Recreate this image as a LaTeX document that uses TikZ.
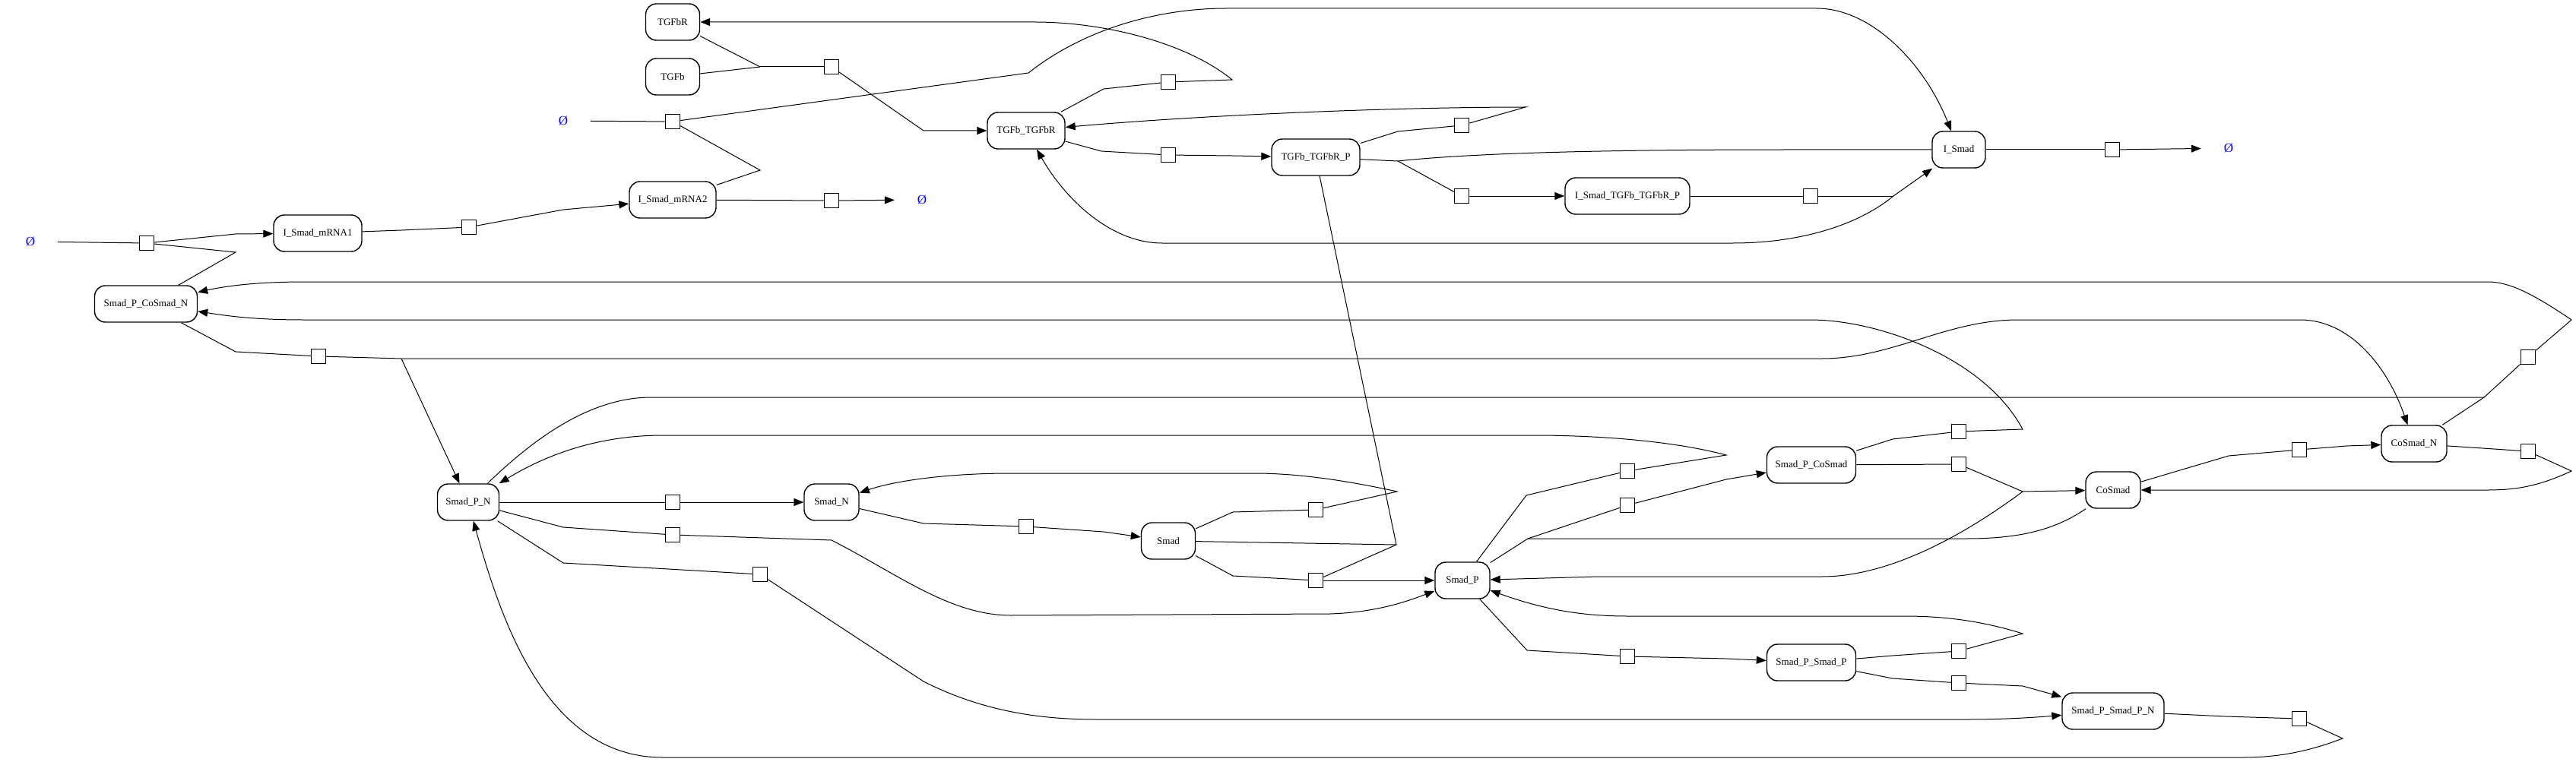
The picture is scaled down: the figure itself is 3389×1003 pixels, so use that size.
\documentclass[tikz,border=0pt]{standalone}
\usepackage{fontspec}
\setmainfont{Liberation Serif}
\usetikzlibrary{arrows.meta}
\tikzset{
  species/.style={draw, rounded corners=14pt, minimum height=48pt, inner sep=0pt, line width=1.4pt, font=\fontsize{13}{15}\selectfont},
  rxn/.style={draw, fill=white, minimum size=19pt, inner sep=0pt, line width=1.4pt},
  nil/.style={text=blue, minimum width=72pt, inner sep=0pt, font=\fontsize{17}{19}\selectfont},
  ln/.style={line width=1pt},
  arr/.style={line width=1pt, -{Triangle[length=13pt,width=10pt]}}
}
\begin{document}
\begin{tikzpicture}[x=1pt,y=-1pt]
\useasboundingbox (0,0) rectangle (3389,1003);
% species
\node[species, minimum width=71pt] (TGFbR) at (885,29) {TGFbR};
\node[species, minimum width=71pt] (TGFb) at (885,101) {TGFb};
\node[species, minimum width=102pt] (TGFbTGFbR) at (1350,172) {TGFb\_TGFbR};
\node[species, minimum width=116pt] (TGFbTGFbRP) at (1731,207) {TGFb\_TGFbR\_P};
\node[species, minimum width=164pt] (ISmadTGFbTGFbRP) at (2141,258) {I\_Smad\_TGFb\_TGFbR\_P};
\node[species, minimum width=70pt] (ISmad) at (2577,197) {I\_Smad};
\node[species, minimum width=114pt] (mRNA2) at (885,263) {I\_Smad\_mRNA2};
\node[species, minimum width=116pt] (mRNA1) at (418,307) {I\_Smad\_mRNA1};
\node[species, minimum width=135pt] (SPCN) at (192,400) {Smad\_P\_CoSmad\_N};
\node[species, minimum width=81pt] (SPN) at (616,661) {Smad\_P\_N};
\node[species, minimum width=72pt] (SN) at (1094,661) {Smad\_N};
\node[species, minimum width=71pt] (Smad) at (1537,712) {Smad};
\node[species, minimum width=72pt] (SP) at (1924,764) {Smad\_P};
\node[species, minimum width=117pt] (SPC) at (2383,612) {Smad\_P\_CoSmad};
\node[species, minimum width=72pt] (CoSmad) at (2780,645) {CoSmad};
\node[species, minimum width=86pt] (CoSmadN) at (3176,584) {CoSmad\_N};
\node[species, minimum width=117pt] (SPSP) at (2383,872) {Smad\_P\_Smad\_P};
\node[species, minimum width=134pt] (SPSPN) at (2780,936) {Smad\_P\_Smad\_P\_N};
% empty sets
\node[nil] (e1) at (741,159) {Ø};
\node[nil] (e2) at (1213,263) {Ø};
\node[nil] (e3) at (40,318) {Ø};
\node[nil] (e4) at (2932,195) {Ø};
% reaction squares
\node[rxn] (sq1) at (1094,88) {};
\node[rxn] (sq2) at (885,160) {};
\node[rxn] (sq3) at (1094,264) {};
\node[rxn] (sq4) at (193,320) {};
\node[rxn] (sq5) at (617,299) {};
\node[rxn] (sq6) at (1537,108) {};
\node[rxn] (sq7) at (1537,204) {};
\node[rxn] (sq8) at (1923,165) {};
\node[rxn] (sq9) at (1923,258) {};
\node[rxn] (sq10) at (2382,258) {};
\node[rxn] (sq11) at (2779,197) {};
\node[rxn] (sq12) at (419,469) {};
\node[rxn] (sq13) at (3326,470) {};
\node[rxn] (sq14) at (2577,568) {};
\node[rxn] (sq15) at (885,661) {};
\node[rxn] (sq16) at (1350,693) {};
\node[rxn] (sq17) at (1731,671) {};
\node[rxn] (sq18) at (1731,764) {};
\node[rxn] (sq19) at (885,704) {};
\node[rxn] (sq20) at (1000,756) {};
\node[rxn] (sq21) at (3025,946) {};
\node[rxn] (sq22) at (2141,620) {};
\node[rxn] (sq23) at (2141,665) {};
\node[rxn] (sq24) at (2577,611) {};
\node[rxn] (sq25) at (3025,592) {};
\node[rxn] (sq26) at (3326,594) {};
\node[rxn] (sq27) at (2141,864) {};
\node[rxn] (sq28) at (2577,857) {};
\node[rxn] (sq29) at (2577,899) {};
% junctions
\coordinate (j1) at (1000,88);
\coordinate (j9) at (1839,212);
\coordinate (j10) at (2491,258);
\coordinate (j12) at (528,472);
\coordinate (j13) at (3268,523);
\coordinate (j18) at (1837,717);
\coordinate (j23) at (2010,709);
\coordinate (j24) at (2661,647);
% 1
\draw[ln] (TGFbR) -- (j1);
\draw[ln] (TGFb) -- (j1);
\draw[ln] (j1) -- (sq1);
\draw[arr] (sq1) -- (1215,172) -- (TGFbTGFbR);
% 2
\draw[ln] (e1) -- (sq2);
\draw[arr] (sq2) -- (1353,96) .. controls (1430,35) and (1530,11) .. (1613,11) -- (2390,11) .. controls (2460,11) and (2530,80) .. (ISmad);
\draw[ln] (sq2) -- (1000,224) -- (mRNA2);
% 3
\draw[ln] (mRNA2) -- (sq3);
\draw[arr] (sq3) -- (e2);
% 4
\draw[ln] (e3) -- (sq4);
\draw[arr] (sq4) -- (310,308) -- (mRNA1);
\draw[ln] (sq4) -- (310,332) -- (SPCN);
% 5
\draw[ln] (mRNA1) -- (528,303) -- (sq5);
\draw[arr] (sq5) -- (741,276) -- (mRNA2);
% 6
\draw[ln] (TGFbTGFbR) -- (1452,117) -- (sq6);
\draw[arr] (sq6) -- (1621,105) .. controls (1560,55) and (1450,29) .. (1361,29) -- (TGFbR);
% 7
\draw[ln] (TGFbTGFbR) -- (1449,199) -- (sq7);
\draw[arr] (sq7) -- (1621,205) -- (TGFbTGFbRP);
% 8
\draw[ln] (TGFbTGFbRP) -- (1839,173) -- (sq8);
\draw[arr] (sq8) -- (2007,141) .. controls (1850,141) and (1600,150) .. (TGFbTGFbR);
% 9
\draw[ln] (TGFbTGFbRP) -- (j9);
\draw[ln] (j9) .. controls (1950,200) and (2150,197) .. (2350,197) -- (ISmad);
\draw[ln] (j9) -- (sq9);
\draw[arr] (sq9) -- (ISmadTGFbTGFbRP);
% 10
\draw[ln] (ISmadTGFbTGFbRP) -- (sq10);
\draw[ln] (sq10) -- (j10);
\draw[arr] (j10) -- (ISmad);
\draw[arr] (j10) .. controls (2440,300) and (2360,320) .. (2280,320) -- (1529,320) .. controls (1460,320) and (1400,260) .. (TGFbTGFbR);
% 11
\draw[ln] (ISmad) -- (sq11);
\draw[arr] (sq11) -- (e4);
% 12
\draw[ln] (SPCN) -- (310,463) -- (sq12);
\draw[ln] (sq12) -- (j12);
\draw[arr] (j12) -- (SPN);
\draw[arr] (j12) -- (2397,472) .. controls (2490,472) and (2560,421) .. (2655,421) -- (3026,421) .. controls (3090,421) and (3140,480) .. (CoSmadN);
% 13
\draw[ln] (SPN) .. controls (720,560) and (790,523) .. (857,523) -- (j13);
\draw[ln] (CoSmadN) -- (j13);
\draw[ln] (j13) -- (sq13);
\draw[arr] (sq13) -- (3383,421) .. controls (3330,385) and (3300,371) .. (3273,371) -- (400,371) .. controls (330,371) and (290,378) .. (SPCN);
% 14
\draw[ln] (SPC) -- (2490,578) -- (sq14);
\draw[arr] (sq14) -- (2661,565) .. controls (2610,470) and (2470,421) .. (2382,421) -- (400,421) .. controls (330,421) and (295,415) .. (SPCN);
% 15
\draw[ln] (SPN) -- (sq15);
\draw[arr] (sq15) -- (SN);
% 16
\draw[ln] (SN) -- (1215,689) -- (sq16);
\draw[arr] (sq16) -- (1452,700) -- (Smad);
% 17
\draw[ln] (Smad) -- (1622,674) -- (sq17);
\draw[arr] (sq17) -- (1838,647) .. controls (1760,630) and (1700,623) .. (1650,623) -- (1330,623) .. controls (1250,623) and (1180,632) .. (SN);
% 18
\draw[ln] (TGFbTGFbRP) -- (j18);
\draw[ln] (Smad) -- (j18);
\draw[ln] (j18) -- (sq18);
\draw[ln] (Smad) -- (1622,758) -- (sq18);
\draw[arr] (sq18) -- (SP);
% 19
\draw[ln] (SPN) -- (741,694) -- (sq19);
\draw[arr] (sq19) -- (1094,711) .. controls (1180,755) and (1250,810) .. (1330,810) -- (1750,808) .. controls (1810,806) and (1850,792) .. (SP);
% 20
\draw[ln] (SPN) -- (741,741) -- (sq20);
\draw[arr] (sq20) -- (1215,897) .. controls (1300,940) and (1380,947) .. (1444,947) -- (2587,947) .. controls (2640,947) and (2680,944) .. (SPSPN);
% 21
\draw[ln] (SPSPN) -- (2928,943) -- (sq21);
\draw[arr] (sq21) -- (3082,972) .. controls (3040,988) and (3000,997) .. (2951,997) -- (872,997) .. controls (720,997) and (660,820) .. (SPN);
% 22
\draw[ln] (SP) -- (2008,652) -- (sq22);
\draw[arr] (sq22) -- (2271,599) .. controls (2200,580) and (2100,573) .. (2018,573) -- (872,573) .. controls (770,573) and (700,610) .. (SPN);
% 23
\draw[ln] (SP) -- (j23);
\draw[ln] (CoSmad) .. controls (2700,700) and (2650,709) .. (2587,709) -- (j23);
\draw[ln] (j23) -- (sq23);
\draw[arr] (sq23) -- (2271,631) -- (SPC);
% 24
\draw[ln] (SPC) -- (sq24);
\draw[ln] (sq24) -- (j24);
\draw[arr] (j24) -- (CoSmad);
\draw[arr] (j24) .. controls (2610,685) and (2500,759) .. (2397,759) -- (2103,759) -- (SP);
% 25
\draw[ln] (CoSmad) -- (2932,600) -- (sq25);
\draw[arr] (sq25) -- (3087,587) -- (CoSmadN);
% 26
\draw[ln] (CoSmadN) -- (sq26);
\draw[arr] (sq26) -- (3383,620) .. controls (3340,640) and (3310,645) .. (3273,645) -- (CoSmad);
% 27
\draw[ln] (SP) -- (2009,856) -- (sq27);
\draw[arr] (sq27) -- (2271,867) -- (SPSP);
% 28
\draw[ln] (SPSP) -- (2490,863) -- (sq28);
\draw[arr] (sq28) -- (2661,834) .. controls (2600,815) and (2550,811) .. (2503,811) -- (2141,811) .. controls (2080,811) and (2030,802) .. (SP);
% 29
\draw[ln] (SPSP) -- (2490,893) -- (sq29);
\draw[arr] (sq29) -- (2661,903) -- (SPSPN);
\end{tikzpicture}
\end{document}
